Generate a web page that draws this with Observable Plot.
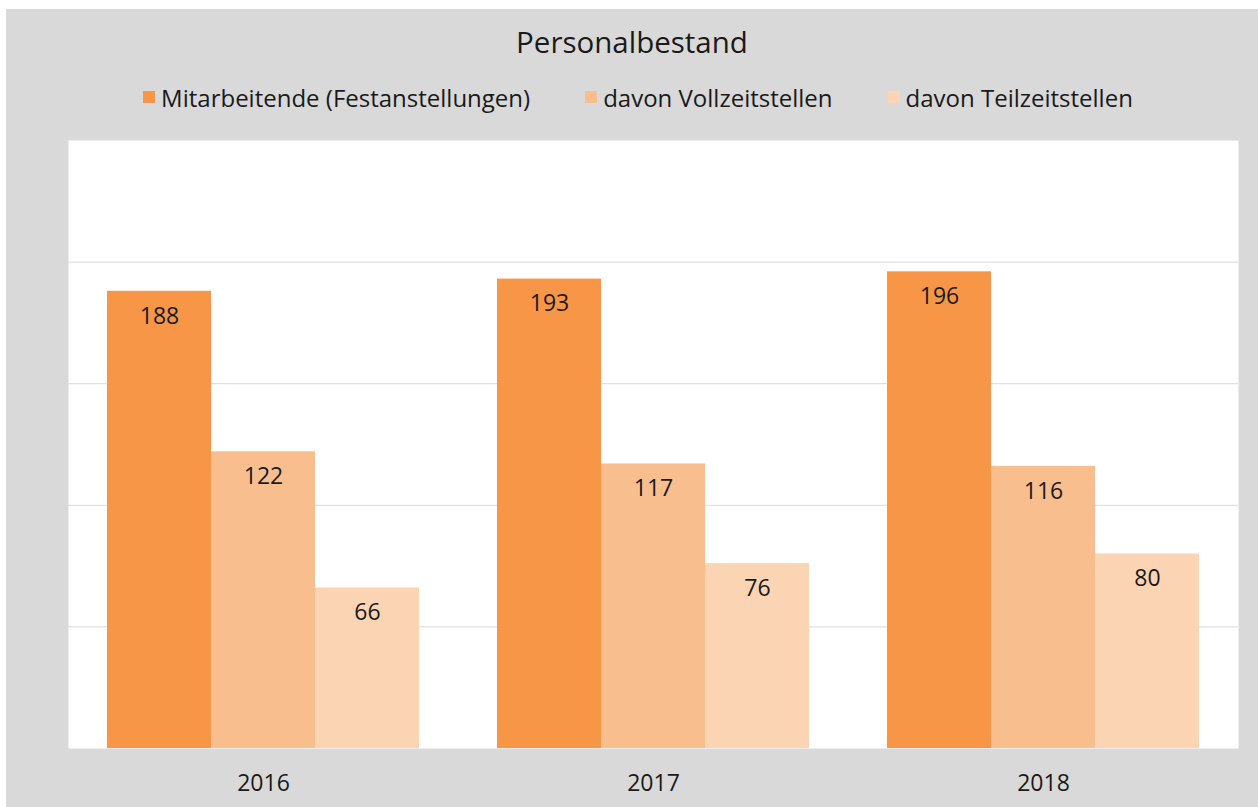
<!DOCTYPE html>
<html>
<head>
<meta charset="utf-8">
<script src="https://cdn.jsdelivr.net/npm/d3@7"></script>
<script src="https://cdn.jsdelivr.net/npm/@observablehq/plot@0.6"></script>
<style>
  body { margin: 0; background: #ffffff; font-family: "Open Sans", sans-serif; }
  #chart { position: absolute; left: 6px; top: 9px; width: 1252px; height: 798px; background: #d9d9d9; overflow: hidden; }
  #title { position: absolute; left: 0; top: 14px; width: 100%; height: 38px; line-height: 38px; text-align: center; font-size: 29.5px; color: #1a1a1a; }
  #legend { position: absolute; left: 0; top: 73px; width: 100%; height: 30px; display: flex; justify-content: center; align-items: center; gap: 55px; font-size: 24px; color: #1a1a1a; padding-left: 12px; box-sizing: border-box; }
  .item { display: flex; align-items: center; gap: 6px; }
  .sw { width: 12px; height: 12px; display: inline-block; }
  #plot { position: absolute; left: 0; top: 116px; }
</style>
</head>
<body>
<div id="chart">
  <div id="title"></div>
  <div id="legend"></div>
  <div id="plot"></div>
</div>
<script>
const title = "Personalbestand";
const years = ["2016", "2017", "2018"];
const series = ["Mitarbeitende (Festanstellungen)", "davon Vollzeitstellen", "davon Teilzeitstellen"];
const colors = ["#f79646", "#f9be8e", "#fbd4b4"];
const mitarbeitende = [188, 193, 196];
const vollzeit = [122, 117, 116];
const teilzeit = [66, 76, 80];
const gridValues = [50, 100, 150, 200];

const valuesBySeries = [mitarbeitende, vollzeit, teilzeit];
const data = [];
years.forEach((y, i) => series.forEach((s, j) => data.push({year: y, series: s, value: valuesBySeries[j][i]})));

document.getElementById("title").textContent = title;
const legend = document.getElementById("legend");
series.forEach((s, j) => {
  const it = document.createElement("div");
  it.className = "item";
  const sw = document.createElement("span");
  sw.className = "sw";
  sw.style.background = colors[j];
  const t = document.createElement("span");
  t.textContent = s;
  it.appendChild(sw); it.appendChild(t);
  legend.appendChild(it);
});

const chart = Plot.plot({
  width: 1252,
  height: 682,
  marginTop: 15,
  marginBottom: 59,
  marginLeft: 61,
  marginRight: 20,
  style: { background: "transparent", fontFamily: "'Open Sans', sans-serif", fontSize: "23px", color: "#1a1a1a" },
  fx: { domain: years, paddingInner: 0.2, paddingOuter: 0.1, label: null, tickSize: 0, tickPadding: 26, axis: "bottom" },
  x: { domain: series, padding: 0, axis: null },
  y: { domain: [0, 250], axis: null },
  color: { domain: series, range: colors },
  marks: [
    Plot.frame({ fill: "white", stroke: null, facet: "super", insetLeft: -39, insetRight: -39 }),
    Plot.ruleY(gridValues, { stroke: "#d9d9d9", strokeWidth: 1, insetLeft: -39, insetRight: -39 }),
    Plot.barY(data, { fx: "year", x: "series", y: "value", fill: "series" }),
    Plot.text(data, { fx: "year", x: "series", y: "value", text: d => String(d.value), dy: 25, fill: "#1a1a1a", fontSize: 23 })
  ]
});
document.getElementById("plot").appendChild(chart);
</script>
</body>
</html>
